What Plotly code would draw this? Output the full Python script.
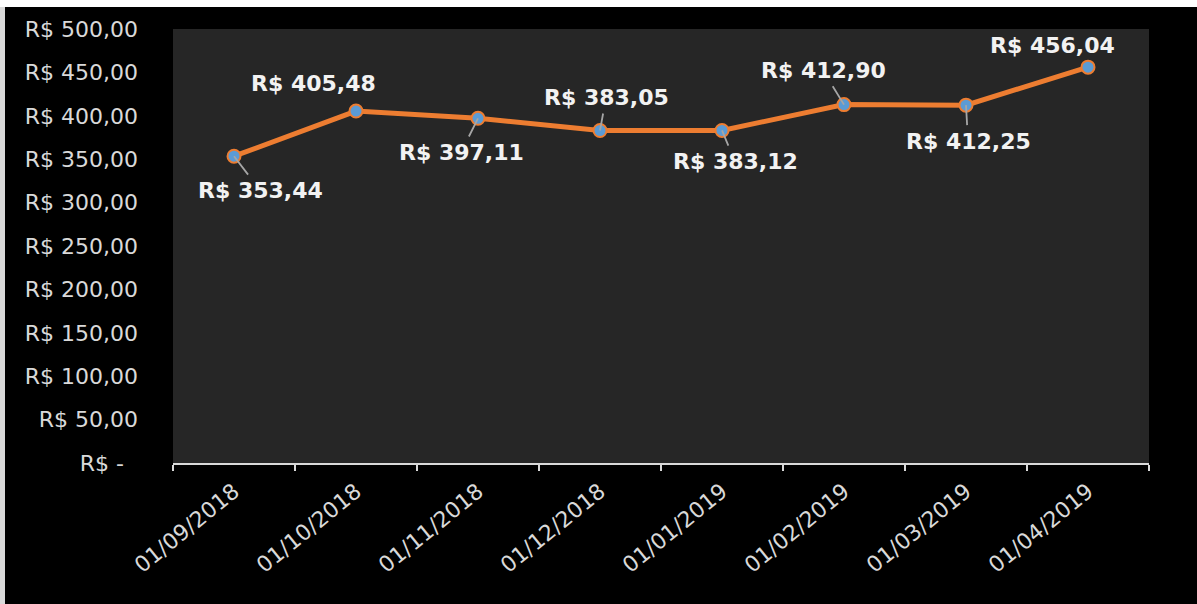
import plotly.graph_objects as go

# ---- data ----
dates = ["01/09/2018", "01/10/2018", "01/11/2018", "01/12/2018",
         "01/01/2019", "01/02/2019", "01/03/2019", "01/04/2019"]
prices = [353.44, 405.48, 397.11, 383.05, 383.12, 412.90, 412.25, 456.04]
price_labels = ["R$ 353,44", "R$ 405,48", "R$ 397,11", "R$ 383,05",
                "R$ 383,12", "R$ 412,90", "R$ 412,25", "R$ 456,04"]
y_tick_vals = [0, 50, 100, 150, 200, 250, 300, 350, 400, 450, 500]
y_tick_text = ["R$ -\u2007", "R$ 50,00", "R$ 100,00", "R$ 150,00", "R$ 200,00",
               "R$ 250,00", "R$ 300,00", "R$ 350,00", "R$ 400,00",
               "R$ 450,00", "R$ 500,00"]
# label offsets (pixels from point) and whether a leader line is drawn
label_dx = [26, -43, -17, 6, 13, -21, 2, -36]
label_dy = [34, -28, 34, -33, 31, -34, 36, -22]
leader = [True, False, True, True, True, True, True, False]

FONT = "DejaVu Sans"
TXT = "#d9d9d9"

fig = go.Figure()
fig.add_trace(go.Scatter(
    x=dates, y=prices, mode="lines+markers",
    line=dict(color="#ED7D31", width=5),
    marker=dict(size=13, color="#5B9BD5", line=dict(color="#ED7D31", width=2)),
    hoverinfo="skip", showlegend=False,
))

for d, p, t, dx, dy, ld in zip(dates, prices, price_labels, label_dx, label_dy, leader):
    if ld:
        fig.add_annotation(
            x=d, y=p, text="<b>" + t + "</b>", showarrow=True,
            ax=dx, ay=dy, arrowhead=0, arrowwidth=1.8, arrowcolor="#a6a6a6",
            standoff=0, startstandoff=2,
            font=dict(family=FONT, size=22, color="#f2f2f2"),
        )
    else:
        fig.add_annotation(
            x=d, y=p, text="<b>" + t + "</b>", showarrow=False,
            xshift=dx, yshift=-dy,
            font=dict(family=FONT, size=22, color="#f2f2f2"),
        )

# top white strip and left light border (frame of the screenshot)
fig.add_shape(type="rect", xref="paper", yref="paper",
              x0=-0.2, x1=1.1, y0=(463 - 7) / 434, y1=1.1,
              fillcolor="#ffffff", line=dict(width=0), layer="above")
fig.add_shape(type="rect", xref="paper", yref="paper",
              x0=-0.2, x1=(5 - 173) / 976, y0=-0.4, y1=(463 - 7) / 434,
              fillcolor="#d9d9d9", line=dict(width=0), layer="above")

fig.update_layout(
    width=1197, height=604,
    margin=dict(l=173, r=48, t=29, b=141),
    paper_bgcolor="#000000",
    plot_bgcolor="#262626",
    font=dict(family=FONT, color=TXT),
    xaxis=dict(
        type="category", range=[-0.5, 7.5], tickson="boundaries",
        ticks="outside", ticklen=6, tickwidth=1.5, tickcolor=TXT,
        showline=True, linecolor=TXT, linewidth=2,
        showgrid=False, zeroline=False, tickangle=-39,
        ticklabelstandoff=5,
        tickfont=dict(family=FONT, size=22, color=TXT), automargin=False,
    ),
    yaxis=dict(
        range=[0, 500], tickvals=y_tick_vals, ticktext=y_tick_text,
        showgrid=False, zeroline=False, showline=False, ticks="",
        ticklabelstandoff=34,
        tickfont=dict(family=FONT, size=22, color=TXT), automargin=False,
    ),
)

fig.write_html("out.html")
